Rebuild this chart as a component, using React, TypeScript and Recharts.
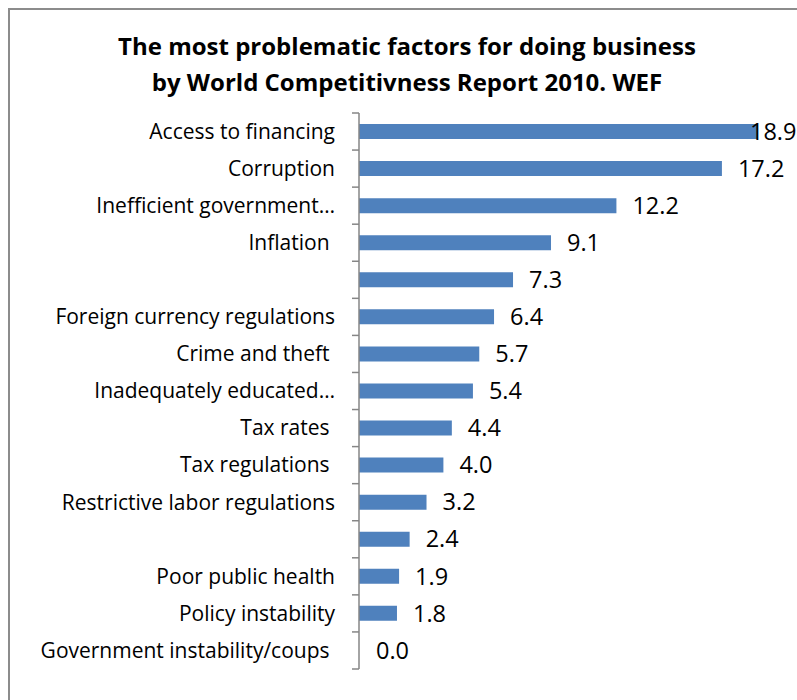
import { BarChart, Bar, XAxis, YAxis, LabelList, Cell } from 'recharts';

const categories = [
  'Access to financing',
  'Corruption',
  'Inefficient government…',
  'Inflation\u00A0',
  '',
  'Foreign currency regulations',
  'Crime and theft\u00A0',
  'Inadequately educated…',
  'Tax rates\u00A0',
  'Tax regulations\u00A0',
  'Restrictive labor regulations',
  '',
  'Poor public health',
  'Policy instability',
  'Government instability/coups\u00A0',
];

const values = [18.9, 17.2, 12.2, 9.1, 7.3, 6.4, 5.7, 5.4, 4.4, 4.0, 3.2, 2.4, 1.9, 1.8, 0.0];

const data = categories.map((name, i) => ({ id: i, name, value: values[i] }));

const W = 797;
const H = 700;
const AXIS_X = 359;
const TOP = 113;
const BOTTOM = 31;
const BAND = (H - TOP - BOTTOM) / categories.length;
const FONT = '"Open Sans", Lato, sans-serif';

const CategoryTick = (props: any) => {
  const { y, payload, index } = props;
  const label = categories[payload.value] ?? '';
  return (
    <g>
      <text
        x={AXIS_X - 24}
        y={y}
        dy="0.35em"
        textAnchor="end"
        fontSize={21}
        fontFamily={FONT}
        fill="#000"
      >
        {label}
      </text>
      <line x1={AXIS_X - 7} x2={AXIS_X} y1={y - BAND / 2} y2={y - BAND / 2} stroke="#868686" strokeWidth={1.5} />
      {index === categories.length - 1 && (
        <line x1={AXIS_X - 7} x2={AXIS_X} y1={y + BAND / 2} y2={y + BAND / 2} stroke="#868686" strokeWidth={1.5} />
      )}
    </g>
  );
};

const ValueLabel = (props: any) => {
  const { x, y, width, height, value } = props;
  const lx = Math.min(x + width + 16, W - 47);
  return (
    <text x={lx} y={y + height / 2} dy="0.35em" fontSize={23.5} fontFamily={FONT} fill="#000">
      {Number(value).toFixed(1)}
    </text>
  );
};

export default function App() {
  return (
    <div style={{ position: 'absolute', left: 0, top: 0, width: W, height: H, overflow: 'hidden', background: '#fff' }}>
      <div
        style={{
          position: 'absolute',
          left: 8,
          top: 8,
          width: W,
          height: H,
          border: '2px solid #8c8c8c',
        }}
      />
      <div
        style={{
          position: 'absolute',
          left: 7,
          top: 28,
          width: 800,
          textAlign: 'center',
          fontFamily: FONT,
          fontWeight: 700,
          fontSize: 24,
          lineHeight: '36px',
          color: '#000',
        }}
      >
        The most problematic factors for doing business
        <br />
        by World Competitivness Report 2010. WEF
      </div>
      <div style={{ position: 'absolute', left: 0, top: 0 }}>
        <BarChart
          width={W}
          height={H}
          data={data}
          layout="vertical"
          margin={{ top: TOP, bottom: BOTTOM, left: 0, right: W - 781 }}
          barCategoryGap="30%"
        >
          <XAxis type="number" domain={[0, 20]} hide />
          <YAxis
            type="category"
            dataKey="id"
            width={AXIS_X}
            axisLine={{ stroke: '#868686', strokeWidth: 1.5 }}
            tickLine={false}
            tick={<CategoryTick />}
            interval={0}
          />
          <Bar dataKey="value" fill="#4F81BD" barSize={15} minPointSize={1} isAnimationActive={false}>
            {data.map((d) => (
              <Cell key={d.id} fill={d.value === 0 ? 'transparent' : '#4F81BD'} />
            ))}
            <LabelList dataKey="value" content={<ValueLabel />} />
          </Bar>
        </BarChart>
      </div>
    </div>
  );
}
